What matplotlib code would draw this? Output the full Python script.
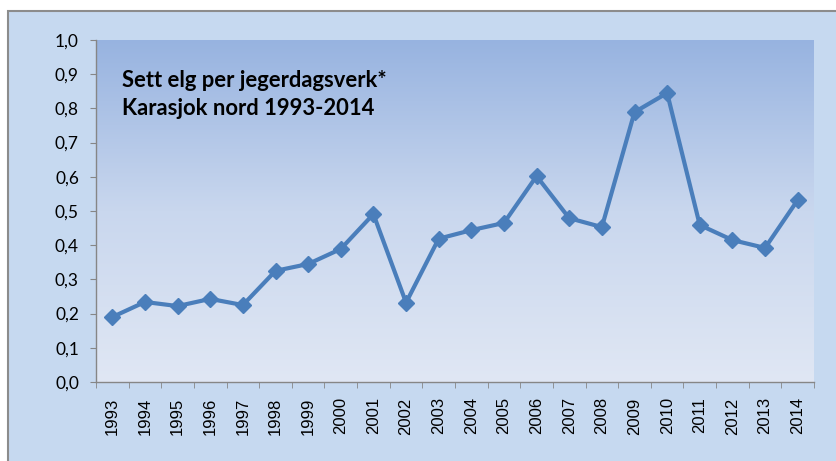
import numpy as np
import matplotlib
matplotlib.use("Agg")
import matplotlib.pyplot as plt
from matplotlib.colors import LinearSegmentedColormap
from matplotlib.patches import Rectangle

years = ["1993", "1994", "1995", "1996", "1997", "1998", "1999", "2000", "2001", "2002",
         "2003", "2004", "2005", "2006", "2007", "2008", "2009", "2010", "2011", "2012",
         "2013", "2014"]
values = [0.19, 0.234, 0.222, 0.243, 0.225, 0.325, 0.345, 0.389, 0.491, 0.232,
          0.419, 0.444, 0.465, 0.602, 0.479, 0.453, 0.789, 0.845, 0.459, 0.415,
          0.392, 0.532]
yticks = [0.0, 0.1, 0.2, 0.3, 0.4, 0.5, 0.6, 0.7, 0.8, 0.9, 1.0]
title_lines = ["Sett elg per jegerdagsverk*", "Karasjok nord 1993-2014"]

plt.rcParams['font.family'] = ['Lato', 'DejaVu Sans']

W, H = 836, 461
fig = plt.figure(figsize=(W / 100, H / 100), dpi=100)
fig.patch.set_facecolor('white')

# outer chart area background with border (bottom/right edges off-canvas)
bg = Rectangle((8 / W, -0.05), 1.1, 1.05 - 11 / H, transform=fig.transFigure,
               facecolor='#C6D9F0', edgecolor='#8C8C8C', linewidth=1.5, zorder=-10)
fig.add_artist(bg)

left, right, top, bottom = 96, 814, 40, 382
ax = fig.add_axes([left / W, 1 - bottom / H, (right - left) / W, (bottom - top) / H])
ax.set_zorder(5)
ax.set_facecolor('none')

n = len(years)
x = np.arange(n)
ax.set_xlim(-0.5, n - 0.5)
ax.set_ylim(0, 1.0)

cmap = LinearSegmentedColormap.from_list('g', ['#E0E7F4', '#C9D7EE', '#97B3E0'])
grad = np.linspace(0, 1, 256).reshape(-1, 1)
ax.imshow(grad, aspect='auto', cmap=cmap, origin='lower',
          extent=(-0.5, n - 0.5, 0, 1.0), zorder=0)

ax.plot(x, values, color='#4A7EBB', linewidth=3.0, marker='D', markersize=8.5,
        markerfacecolor='#4A7EBB', markeredgecolor='#4A7EBB', zorder=3, clip_on=False)

for s in ['top', 'right']:
    ax.spines[s].set_visible(False)
for s in ['left', 'bottom']:
    ax.spines[s].set_color('#868686')
    ax.spines[s].set_linewidth(1.0)

ax.set_yticks(yticks)
ax.set_yticklabels([f"{v:.1f}".replace('.', ',') for v in yticks], fontsize=12.5)
ax.tick_params(axis='y', length=4.3, color='#868686', pad=8)

ax.set_xticks(x)
ax.set_xticklabels(years, rotation=90, fontsize=12, family=['Liberation Sans'])
ax.tick_params(axis='x', length=0, pad=11)
ax.set_xticks(np.arange(-0.5, n, 1.0), minor=True)
ax.tick_params(axis='x', which='minor', length=4.3, color='#868686')

ax.text(0.036, 0.883, title_lines[0], transform=ax.transAxes, fontsize=15.8,
        fontweight='bold', color='black', va='center', ha='left')
ax.text(0.036, 0.801, title_lines[1], transform=ax.transAxes, fontsize=15.8,
        fontweight='bold', color='black', va='center', ha='left')

fig.savefig('out.png', dpi=100)
